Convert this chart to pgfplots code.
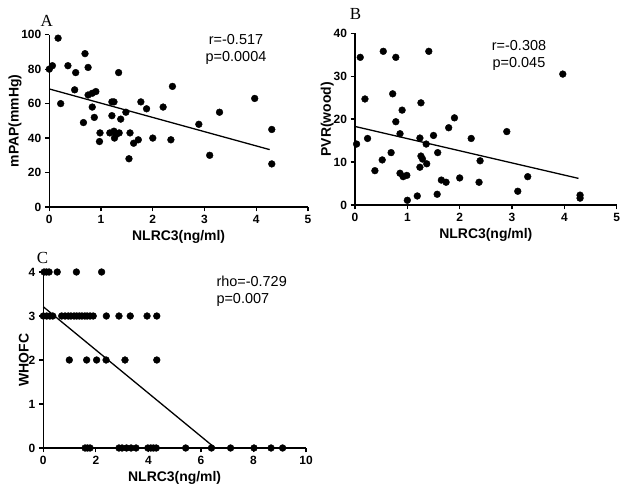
\documentclass[border=0pt]{standalone}
\usepackage{fontspec}
\setmainfont{Liberation Sans}
\newfontfamily\seriffont{Liberation Serif}
\usepackage{pgfplots}
\pgfplotsset{compat=1.18}
\pgfplotsset{
  panel/.style={
    scale only axis,
    axis x line=bottom, axis y line=left,
    axis line style={line width=1.3bp, -},
    tick align=outside,
    major tick length=4.5bp,
    every tick/.style={line width=1.3bp, black},
    ticklabel style={font=\bfseries\fontsize{12}{12}\selectfont},
    /pgf/number format/assume math mode=true,
    label style={font=\bfseries\fontsize{14}{15}\selectfont},
    ylabel shift=-7bp,
    clip=false,
    anchor=south west,
  },
  dots/.style={only marks, mark=*, mark size=3.4bp, black},
  fitline/.style={black, line width=1.3bp, no marks},
}
\begin{document}
\begin{tikzpicture}
\path[use as bounding box] (0bp,0bp) rectangle (630bp,503bp);
% ---------- Panel A
\begin{axis}[panel, at={(49.3bp,296bp)}, width=258.7bp, height=172.3bp,
  xmin=0, xmax=5, ymin=0, ymax=100,
  xtick={0,1,2,3,4,5}, ytick={0,20,40,60,80,100},
  xlabel={NLRC3(ng/ml)}, ylabel={mPAP(mmHg)}]
\addplot[dots] coordinates {
(0,80) (0.06,82) (0.17,98) (0.22,60) (0.36,82) (0.49,68) (0.51,78)
(0.66,49) (0.69,89) (0.75,81) (0.75,65) (0.83,66) (0.90,67) (0.83,58)
(0.87,52) (0.98,43) (0.97,38) (1.34,78) (1.21,61) (1.25,61) (1.21,53)
(1.17,43) (1.25,44) (1.26,40) (1.35,43) (1.29,42) (1.48,55) (1.38,51)
(1.56,43) (1.63,37) (1.72,39) (1.54,28) (1.77,61) (1.88,57) (2.00,40)
(2.20,58) (2.38,70) (2.35,39) (2.89,48) (3.10,30) (3.29,55) (3.97,63)
(4.30,45) (4.30,25)};
\addplot[fitline] coordinates {(0,68.5) (4.26,33.3)};
\end{axis}
% ---------- Panel B
\begin{axis}[panel, at={(355bp,298bp)}, width=261.7bp, height=171.7bp,
  xmin=0, xmax=5, ymin=0, ymax=40,
  xtick={0,1,2,3,4,5}, ytick={0,10,20,30,40},
  xlabel={NLRC3(ng/ml)}, ylabel={PVR(wood)}]
\addplot[dots] coordinates {
(0.03,14.2) (0.10,34.4) (0.19,24.7) (0.24,15.5) (0.38,8.0) (0.52,10.5)
(0.54,35.8) (0.69,12.2) (0.72,25.9) (0.78,34.4) (0.78,19.4) (0.86,16.6)
(0.90,22.1) (0.86,7.4) (0.92,6.6) (0.99,6.9) (1.00,1.1) (1.19,2.1)
(1.24,8.8) (1.24,15.6) (1.26,23.8) (1.26,11.4) (1.29,10.7) (1.37,9.6)
(1.36,14.2) (1.41,35.8) (1.50,16.2) (1.58,12.2) (1.57,2.5) (1.65,5.8)
(1.74,5.3) (1.79,18.0) (1.90,20.3) (2.00,6.3) (2.22,15.5) (2.39,10.3)
(2.37,5.3) (2.90,17.1) (3.11,3.2) (3.30,6.6) (3.97,30.5) (4.30,2.3)
(4.30,1.6)};
\addplot[fitline] coordinates {(0,18.3) (4.27,6.2)};
\end{axis}
% ---------- Panel C
\begin{axis}[panel, at={(43.3bp,55bp)}, width=262.7bp, height=176bp,
  xmin=0, xmax=10, ymin=0, ymax=4,
  xtick={0,2,4,6,8,10}, ytick={0,1,2,3,4},
  xlabel={NLRC3(ng/ml)}, ylabel={WHOFC}]
\addplot[dots] coordinates {
(0.03,4) (0.12,4) (0.22,4) (0.53,4) (1.26,4) (2.22,4)
(0,3) (0.13,3) (0.25,3) (0.36,3) (0.70,3) (0.83,3) (0.95,3) (1.05,3)
(1.17,3) (1.27,3) (1.37,3) (1.47,3) (1.58,3) (1.67,3) (1.78,3) (1.90,3)
(2.40,3) (2.88,3) (3.31,3) (3.95,3) (4.32,3)
(0.99,2) (1.65,2) (2.03,2) (2.39,2) (3.11,2) (4.32,2)
(1.59,0) (1.68,0) (1.78,0) (2.88,0) (3.00,0) (3.17,0) (3.34,0) (3.53,0)
(3.98,0) (4.09,0) (4.19,0) (4.30,0) (5.42,0) (6.40,0) (7.13,0) (8.02,0)
(8.67,0) (9.11,0)};
\addplot[fitline] coordinates {(0,3.21) (6.54,0)};
\end{axis}
% ---------- annotations
\node[font=\fontsize{14.5}{17}\selectfont, align=center] at (236bp,454bp) {r=-0.517\\p=0.0004};
\node[font=\fontsize{14.5}{17}\selectfont, align=center] at (519bp,448bp) {r=-0.308\\p=0.045};
\node[font=\fontsize{14.5}{17}\selectfont, align=left, anchor=west] at (213bp,211.5bp) {rho=-0.729\\p=0.007};
\node[font=\seriffont\fontsize{17}{17}\selectfont] at (46.7bp,482bp) {A};
\node[font=\seriffont\fontsize{17}{17}\selectfont] at (355.5bp,489bp) {B};
\node[font=\seriffont\fontsize{17}{17}\selectfont] at (42.5bp,245.5bp) {C};
\end{tikzpicture}
\end{document}
